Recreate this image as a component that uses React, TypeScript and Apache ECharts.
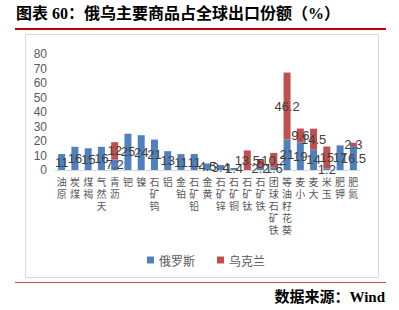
import React, { useEffect, useRef } from "react";
import * as echarts from "echarts";

const categories = [
  "原油", "煤炭", "褐煤", "天然气", "沥青", "钯", "镍", "钨矿石", "铝", "铂金",
  "铅矿石", "黄金", "锌矿石", "铜矿石", "钛矿石", "铁矿石", "铁矿石球团", "葵花籽油等",
  "小麦", "大麦", "玉米", "钾肥", "氮肥",
];
const russia = [11, 16, 15, 16, 7.2, 25, 24, 21, 13, 11, 11, 4.5, 3.4, 1.4, null, 2.2, 1.6, 21, 19, 14, 1.2, 17, 16.5];
const ukraine = [null, null, null, null, 12, null, null, null, null, null, null, null, null, null, 13.5, 5, 10.2, 46.2, 9.6, 14.5, 15, null, 2.3];
const yTicks = { min: 0, max: 80, interval: 10 };
const seriesNames = ["俄罗斯", "乌克兰"];

const CJK = '"Noto Sans CJK SC", sans-serif';
const SERIF_CJK = '"Liberation Serif", "Noto Sans CJK SC", serif';

export default function App() {
  const ref = useRef<HTMLDivElement>(null);
  useEffect(() => {
    document.body.style.margin = "0";
    const chart = echarts.init(ref.current!, null, { renderer: "svg" });
    const labelStyle = {
      show: true,
      position: "inside",
      color: "#404040",
      fontSize: 13,
      fontFamily: '"Liberation Sans", sans-serif',
    };
    chart.setOption({
      animation: false,
      backgroundColor: "#ffffff",
      graphic: [
        {
          type: "text",
          left: 16,
          top: 5,
          style: {
            text: "图表 60：俄乌主要商品占全球出口份额（%）",
            fontSize: 16,
            fontWeight: "bold",
            fontFamily: SERIF_CJK,
            fill: "#000000",
          },
        },
        {
          type: "line",
          shape: { x1: 15, y1: 29, x2: 386, y2: 29 },
          style: { stroke: "#C00000", lineWidth: 2 },
        },
        {
          type: "rect",
          shape: { x: 25.5, y: 34.5, width: 353, height: 243 },
          style: { fill: "none", stroke: "#d9d9d9", lineWidth: 1 },
          z: -1,
        },
        {
          type: "line",
          shape: { x1: 15, y1: 282.5, x2: 386, y2: 282.5 },
          style: { stroke: "#C0504D", lineWidth: 1 },
        },
        {
          type: "text",
          right: 14,
          top: 289,
          style: {
            text: "数据来源：Wind",
            fontSize: 15,
            fontWeight: "bold",
            fontFamily: SERIF_CJK,
            fill: "#000000",
          },
        },
      ],
      legend: {
        data: seriesNames,
        left: 142,
        top: 249,
        icon: "rect",
        itemWidth: 7,
        itemHeight: 7,
        itemGap: 22,
        textStyle: { color: "#595959", fontSize: 12, fontFamily: CJK },
      },
      grid: { left: 55, right: 39, top: 54, bottom: 140 },
      xAxis: {
        type: "category",
        data: categories,
        axisLine: { lineStyle: { color: "#d9d9d9" } },
        axisTick: { show: false },
        axisLabel: {
          interval: 0,
          margin: 5,
          color: "#595959",
          fontSize: 10,
          lineHeight: 12,
          fontFamily: CJK,
          formatter: (v: string) => v.split("").reverse().join("\n"),
        },
      },
      yAxis: {
        type: "value",
        min: yTicks.min,
        max: yTicks.max,
        interval: yTicks.interval,
        axisLine: { show: false },
        axisTick: { show: false },
        splitLine: { show: false },
        axisLabel: {
          color: "#595959",
          fontSize: 12,
          margin: 8,
          fontFamily: '"Liberation Sans", sans-serif',
        },
      },
      series: [
        {
          name: seriesNames[0],
          type: "bar",
          stack: "total",
          barWidth: 7,
          data: russia,
          itemStyle: { color: "#4F81BD" },
          label: labelStyle,
        },
        {
          name: seriesNames[1],
          type: "bar",
          stack: "total",
          barWidth: 7,
          data: ukraine,
          itemStyle: { color: "#C0504D" },
          label: labelStyle,
        },
      ],
    });
    return () => chart.dispose();
  }, []);
  return (
    <div
      ref={ref}
      style={{ position: "absolute", left: 0, top: 0, width: 399, height: 310 }}
    />
  );
}
